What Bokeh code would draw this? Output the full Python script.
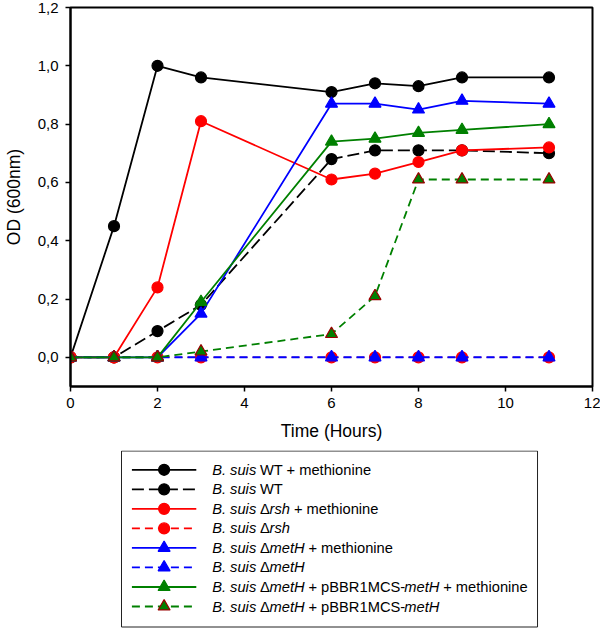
from bokeh.plotting import figure
from bokeh.layouts import column
from bokeh.models import Range1d, FixedTicker
from bokeh.core.properties import value
from bokeh.embed import file_html
from bokeh.resources import INLINE

# ---------------- data ----------------
time_h = [0, 1, 2, 3, 6, 7, 8, 9, 11]
wt_met = [0.00, 0.45, 1.00, 0.96, 0.91, 0.94, 0.93, 0.96, 0.96]
wt = [0.00, 0.00, 0.09, 0.18, 0.68, 0.71, 0.71, 0.71, 0.70]
rsh_met = [0.00, 0.00, 0.24, 0.81, 0.61, 0.63, 0.67, 0.71, 0.72]
rsh = [0.00, 0.00, 0.00, 0.00, 0.00, 0.00, 0.00, 0.00, 0.00]
meth_met = [0.00, 0.00, 0.00, 0.15, 0.87, 0.87, 0.85, 0.88, 0.87]
meth = [0.00, 0.00, 0.00, 0.00, 0.00, 0.00, 0.00, 0.00, 0.00]
comp_met = [0.00, 0.00, 0.00, 0.19, 0.74, 0.75, 0.77, 0.78, 0.80]
comp = [0.00, 0.00, 0.00, 0.02, 0.08, 0.21, 0.61, 0.61, 0.61]

x_ticks = [0, 2, 4, 6, 8, 10, 12]
x_tick_labels = ["0", "2", "4", "6", "8", "10", "12"]
y_ticks = [0.0, 0.2, 0.4, 0.6, 0.8, 1.0, 1.2]
y_tick_labels = ["0,0", "0,2", "0,4", "0,6", "0,8", "1,0", "1,2"]

# legend label segments: (text, italic)
legend_labels = [
    [("B. suis", True), (" WT + methionine", False)],
    [("B. suis", True), (" WT", False)],
    [("B. suis", True), (" \u0394", False), ("rsh", True), (" + methionine", False)],
    [("B. suis", True), (" \u0394", False), ("rsh", True)],
    [("B. suis", True), (" \u0394", False), ("metH", True), (" + methionine", False)],
    [("B. suis", True), (" \u0394", False), ("metH", True)],
    [("B. suis", True), (" \u0394", False), ("metH", True), (" + pBBR1MCS-", False),
     ("metH", True), (" + methionine", False)],
    [("B. suis", True), (" \u0394", False), ("metH", True), (" + pBBR1MCS-", False),
     ("metH", True)],
]

GREEN = "#008000"
series = [
    # values, color, dash, line width, marker, fill, edge
    (wt_met, "black", "solid", 1.8, "circle", "black", "black"),
    (wt, "black", "12 5", 1.8, "circle", "black", "black"),
    (rsh_met, "#ff0000", "solid", 1.8, "circle", "#ff0000", "#ff0000"),
    (rsh, "#ff0000", "8 5", 1.2, "circle", "#ff0000", "#ff0000"),
    (meth_met, "#0000ff", "solid", 1.8, "triangle", "#0000ff", "#0000ff"),
    (meth, "#0000ff", "8 5", 2.0, "triangle", "#0000ff", "#0000ff"),
    (comp_met, GREEN, "solid", 1.8, "triangle", GREEN, GREEN),
    (comp, GREEN, "8 5", 1.8, "triangle", GREEN, "#990000"),
]

FONT = "Liberation Sans"
W_TOTAL = 600
B_LEFT, B_RIGHT = 65, 8
MAIN_H, LEG_H = 450, 178

# ---------------- main plot ----------------
p = figure(width=W_TOTAL, height=MAIN_H, output_backend="svg", toolbar_location=None,
           x_range=Range1d(0, 12), y_range=Range1d(-0.1, 1.2),
           min_border_left=B_LEFT, min_border_right=B_RIGHT, min_border_top=7,
           min_border_bottom=64)
p.grid.visible = False
p.outline_line_color = "black"
p.outline_line_width = 2

for vals, col, dash, lw, mk, fill, edge in series:
    p.line(time_h, vals, line_color=col, line_width=lw, line_dash=dash)
    p.scatter(time_h, vals, marker=mk, size=11 if mk == "circle" else 12,
              fill_color=fill, line_color=edge, line_width=1.2)

for ax in (p.xaxis[0], p.yaxis[0]):
    ax.axis_line_width = 2
    ax.axis_line_color = "black"
    ax.major_tick_line_width = 1.5
    ax.major_tick_out = 5
    ax.major_tick_in = 0
    ax.minor_tick_line_color = None
    ax.major_label_text_font = FONT
    ax.major_label_text_font_size = "15px"
    ax.major_label_text_color = "black"
    ax.axis_label_text_font = FONT
    ax.axis_label_text_font_size = "17.5px"
    ax.axis_label_text_font_style = "normal"
    ax.axis_label_text_color = "black"

p.xaxis.ticker = FixedTicker(ticks=x_ticks)
p.xaxis.major_label_overrides = {t: l for t, l in zip(x_ticks, x_tick_labels)}
p.yaxis.ticker = FixedTicker(ticks=y_ticks)
p.yaxis.major_label_overrides = {t: l for t, l in zip(y_ticks, y_tick_labels)}
p.xaxis.axis_label = "Time (Hours)"
p.yaxis.axis_label = "OD (600nm)"
p.xaxis.major_label_standoff = 6
p.xaxis.axis_label_standoff = 10
p.yaxis.major_label_standoff = 7
p.yaxis.axis_label_standoff = 11

# ---------------- legend panel (data units == pixels of the page) ----------------
lg = figure(width=W_TOTAL, height=LEG_H, output_backend="svg", toolbar_location=None,
            x_range=Range1d(B_LEFT, W_TOTAL - B_RIGHT), y_range=Range1d(LEG_H, 0),
            x_axis_location=None, y_axis_location=None,
            min_border_left=B_LEFT, min_border_right=B_RIGHT,
            min_border_top=0, min_border_bottom=0)
lg.grid.visible = False
lg.outline_line_color = None

box_l, box_r, box_t, box_b = 116.5, 536.5, 0.5, 176.5
lg.quad(left=[box_l], right=[box_r], top=[box_t], bottom=[box_b],
        fill_color=None, line_color="#222222", line_width=1)

FS = 14.7
CW = {' ': 278, '.': 278, '+': 584, '-': 333, '1': 556, 'B': 667, 'C': 722,
      'H': 722, 'M': 833, 'R': 722, 'S': 667, 'T': 611, 'W': 944, 'e': 556,
      'h': 556, 'i': 222, 'm': 833, 'n': 556, 'o': 556, 'p': 556, 'r': 333,
      's': 500, 't': 278, 'u': 556, '\u0394': 668}


def tw(s):
    return sum(CW.get(c, 556) for c in s) * FS / 1000.0


row0, row_step = 19.3, 19.53
line_x0, line_x1, mark_x, text_x = 127, 192, 159.5, 208

it_x, it_y, it_t = [], [], []
no_x, no_y, no_t = [], [], []
for i, (segs, (vals, col, dash, lw, mk, fill, edge)) in enumerate(zip(legend_labels, series)):
    y = row0 + row_step * i
    lg.line([line_x0, line_x1], [y, y], line_color=col, line_width=1.8, line_dash=dash)
    lg.scatter([mark_x], [y], marker=mk, size=11 if mk == "circle" else 12,
               fill_color=fill, line_color=edge, line_width=1.2)
    x = text_x
    for t, ital in segs:
        lead = len(t) - len(t.lstrip())
        x += tw(t[:lead])
        body = t.strip()
        if ital:
            it_x.append(x); it_y.append(y); it_t.append(body)
        else:
            no_x.append(x); no_y.append(y); no_t.append(body)
        x += tw(t.lstrip())

lg.text(x=it_x, y=it_y, text=it_t, text_font=value(FONT), text_font_size=f"{FS}px",
        text_font_style="italic", text_baseline="middle", text_align="left",
        text_color="black")
lg.text(x=no_x, y=no_y, text=no_t, text_font=value(FONT), text_font_size=f"{FS}px",
        text_font_style="normal", text_baseline="middle", text_align="left",
        text_color="black")

layout = column(p, lg, spacing=0)
open("out.html", "w").write(file_html(layout, INLINE))
